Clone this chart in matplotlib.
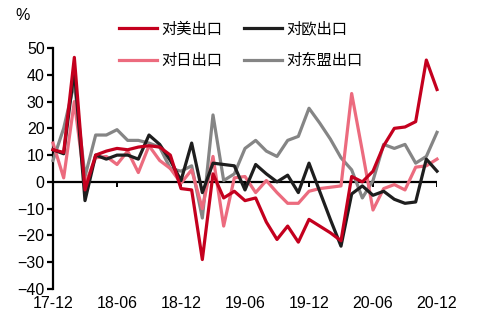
import matplotlib
matplotlib.use("Agg")
import matplotlib.pyplot as plt
import numpy as np

months = ["17-12","18-01","18-02","18-03","18-04","18-05","18-06","18-07","18-08","18-09","18-10","18-11",
          "18-12","19-01","19-02","19-03","19-04","19-05","19-06","19-07","19-08","19-09","19-10","19-11",
          "19-12","20-01","20-02","20-03","20-04","20-05","20-06","20-07","20-08","20-09","20-10","20-11","20-12"]

us = [12, 11, 46.5, -3, 10, 11.5, 12.5, 12, 13, 13.5, 13, 10,
      -2.5, -3, -29, 3, -6, -3.5, -7, -6, -15, -21.5, -16.5, -22.5,
      -14, -16.5, -19, -22, 2, 0, 4, 13.5, 20, 20.5, 22.5, 45.5, 34.5]
eu = [12, 10.5, 42, -7, 10, 8.5, 10, 10, 8.5, 17.5, 14, 8,
      0.5, 14.5, -4, 7, 6.5, 6, -3, 6.5, 3, 0, 2.5, -4,
      7, -3.5, -14, -24, -4.5, -1.5, -5, -3.5, -6.5, -8, -7.5, 8.5, 4]
jp = [14.5, 1.5, 30, -1, 9, 9.5, 6.5, 11.5, 3.5, 13.5, 8, 5,
      -0.5, 4.5, -10, 9.5, -16.5, 1.5, 2, -4, 0.5, -4, -8, -8,
      -3.5, -2.5, -2, -1.5, 33, 11.5, -10.5, -2.5, -1, -3, 5.5, 6, 8.5]
asean = [8, 20, 37, 2, 17.5, 17.5, 19.5, 15.5, 15.5, 14.5, 13, 5,
         4, 6, -13.5, 25, 0.5, 3, 12.5, 15.5, 11.5, 9.5, 15.5, 17,
         27.5, 22, 16, 9, 4.5, -6, 0.5, 14, 12.5, 14, 7, 9.5, 18.5]

names = ["对美出口", "对日出口", "对欧出口", "对东盟出口"]
tick_labels = ["17-12", "18-06", "18-12", "19-06", "19-12", "20-06", "20-12"]
yticks = [-40, -30, -20, -10, 0, 10, 20, 30, 40, 50]

plt.rcParams['font.family'] = ['Liberation Sans', 'Noto Sans CJK SC', 'DejaVu Sans']

fig = plt.figure(figsize=(4.78, 3.26), dpi=100)
ax = fig.add_axes([53/478, 1-289/326, (437-53)/478, (289-48)/326])

x = np.arange(len(months))
lw = 2.3
l_asean, = ax.plot(x, asean, color="#858585", lw=lw, zorder=3, clip_on=False)
l_jp, = ax.plot(x, jp, color="#EC6B7E", lw=lw, zorder=4, clip_on=False)
l_eu, = ax.plot(x, eu, color="#1E1E1E", lw=lw, zorder=5, clip_on=False)
l_us, = ax.plot(x, us, color="#C4001E", lw=lw, zorder=6, clip_on=False)

ax.set_xlim(0, len(months) - 1)
ax.set_ylim(-40, 50)

# zero line with ticks
ax.axhline(0, color="black", lw=1.6, zorder=2)
tick_pos = [months.index(t) for t in tick_labels]
ax.vlines(tick_pos, -1.9, 0, color="black", lw=1.4, zorder=2)

for s in ["top", "right", "bottom"]:
    ax.spines[s].set_visible(False)
ax.spines["left"].set_linewidth(1.6)
ax.set_yticks(yticks)
ax.tick_params(axis="y", direction="out", length=4, width=1.6, labelsize=11.5, pad=2)
ax.set_xticks(tick_pos)
ax.set_xticklabels(tick_labels)
ax.tick_params(axis="x", length=0, labelsize=11.5, pad=5)

fig.text(15/478, 1-16/326, "%", fontsize=11.5, va="center", ha="left")

leg = fig.legend([l_us, l_jp, l_eu, l_asean], names, ncol=2, loc="upper left",
                 bbox_to_anchor=(111/478, 1-13/326), frameon=False, borderpad=0,
                 handlelength=2.5, handletextpad=0.3, columnspacing=1.4,
                 labelspacing=0.95, prop={"family": ["Noto Sans CJK SC"], "size": 11})

fig.savefig("out.png", dpi=100)
